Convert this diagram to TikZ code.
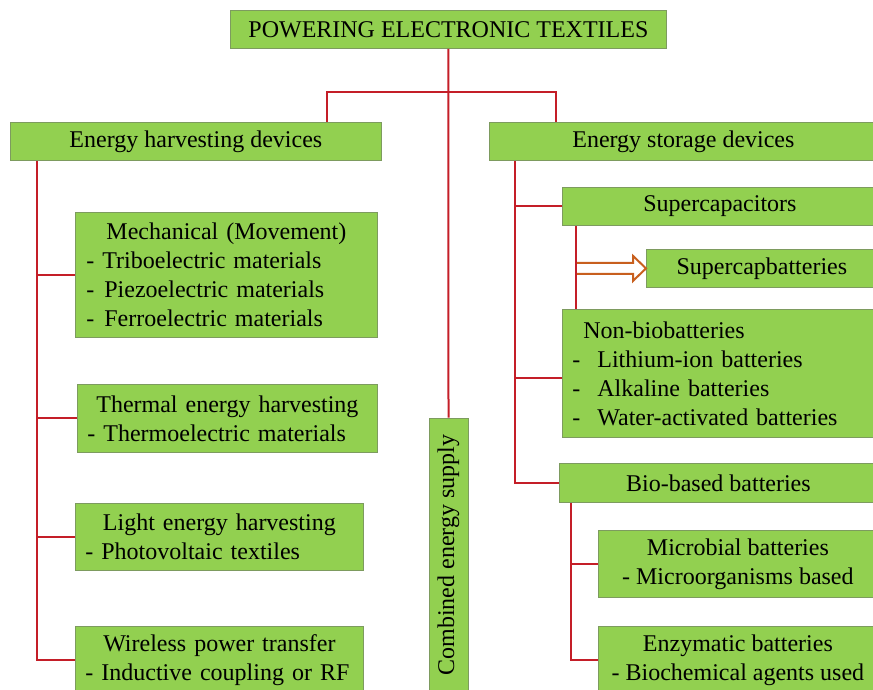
\documentclass[tikz,border=0pt]{standalone}
\usepackage{fontspec}
\setmainfont{Liberation Serif}
\usepackage{tikz}
\usetikzlibrary{calc}
\definecolor{boxgreen}{RGB}{146,208,80}
\definecolor{boxedge}{RGB}{125,155,95}
\definecolor{linkred}{RGB}{196,30,40}
\definecolor{arroworange}{RGB}{200,95,30}

\begin{document}
\begin{tikzpicture}[x=1pt, y=-1pt,
    every node/.style={font=\fontsize{24}{29}\selectfont},
    box/.style={draw=boxedge, line width=0.8pt, fill=boxgreen, anchor=north west, inner xsep=10pt, inner ysep=0pt},
    link/.style={draw=linkred, line width=2pt},
    blockarrow/.style={draw=arroworange, line width=2pt, line join=miter}]
\useasboundingbox (0,0) rectangle (873,689);
\clip (0,0) rectangle (873,689);
% top level
\node[box, minimum width=436, minimum height=38] (title) at (230,10) {POWERING ELECTRONIC TEXTILES};
\node[box, minimum width=371, minimum height=38] (harv) at (10,122) {Energy harvesting devices};
\node[box, minimum width=388, minimum height=38] (stor) at (489,122) {Energy storage devices};
\node[box, rotate=90, anchor=center, minimum width=274, minimum height=39] (comb) at (448.5,555) {Combined energy supply};
% harvesting side
\node[box, minimum width=302, minimum height=125, text width=280, align=left] (mech) at (75,212)
  {\hfill Mechanical (Movement)\hfill\null\\- Triboelectric materials\\-\hspace{10pt}Piezoelectric materials\\-\hspace{10pt}Ferroelectric materials};
\node[box, minimum width=300, minimum height=68, text width=280, align=left] (therm) at (77,384)
  {\hfill Thermal energy harvesting\hfill\null\\- Thermoelectric materials};
\node[box, minimum width=288, minimum height=67, text width=268, align=left] (light) at (75,503)
  {\hfill Light energy harvesting\hfill\null\\- Photovoltaic textiles};
\node[box, minimum width=288, minimum height=67, text width=268, align=left] (wire) at (75,626)
  {\hfill Wireless power transfer\hfill\null\\- Inductive coupling or RF};
% storage side
\node[box, minimum width=315, minimum height=38] (supc) at (562,187) {Supercapacitors};
\node[box, minimum width=231, minimum height=38] (scb) at (646,249) {Supercapbatteries};
\node[box, minimum width=315, minimum height=128, text width=295, align=left] (nonb) at (562,309)
  {\hspace*{11pt}Non-biobatteries\\-\hspace{17pt}Lithium-ion batteries\\-\hspace{17pt}Alkaline batteries\\-\hspace{17pt}Water-activated batteries};
\node[box, minimum width=318, minimum height=39] (bio) at (559,463) {Bio-based batteries};
\node[box, minimum width=279, minimum height=67, align=center] (micr) at (598,530)
  {Microbial batteries\\- Microorganisms based};
\node[box, minimum width=279, minimum height=67, align=center] (enzy) at (598,626)
  {Enzymatic batteries\\- Biochemical agents used};
% connectors
\coordinate (hbar) at (327,92);
\coordinate (sbar) at (556,92);
\coordinate (lsp) at (37,0);
\coordinate (rsp) at (515,0);
\coordinate (csp) at (576,0);
\coordinate (bsp) at (571,0);
\draw[link] (title.south) -- (comb.east);
\draw[link] (harv.north -| hbar) -- (hbar) -- (sbar) -- (stor.north -| sbar);
\draw[link] (harv.south -| lsp) |- (wire.west);
\foreach \n in {mech,therm,light}
  \draw[link] (\n.west) -- (\n.west -| lsp);
\draw[link] (stor.south -| rsp) |- (bio.west);
\draw[link] (supc.west) -- (supc.west -| rsp);
\draw[link] ($(nonb.west)+(0,5)$) -- ($(nonb.west -| rsp)+(0,5)$);
\draw[blockarrow] ($(scb.west)+(-70,-5.5)$) -- ++(57,0) -- ++(0,-7) -- (scb.west)
  -- ++(-13,12.5) -- ++(0,-7) -- ++(-57,0);
\draw[link] (supc.south -| csp) -- (nonb.north -| csp);
\draw[link] (bio.south -| bsp) |- (enzy.west);
\draw[link] (micr.west) -- (micr.west -| bsp);
\end{tikzpicture}
\end{document}
